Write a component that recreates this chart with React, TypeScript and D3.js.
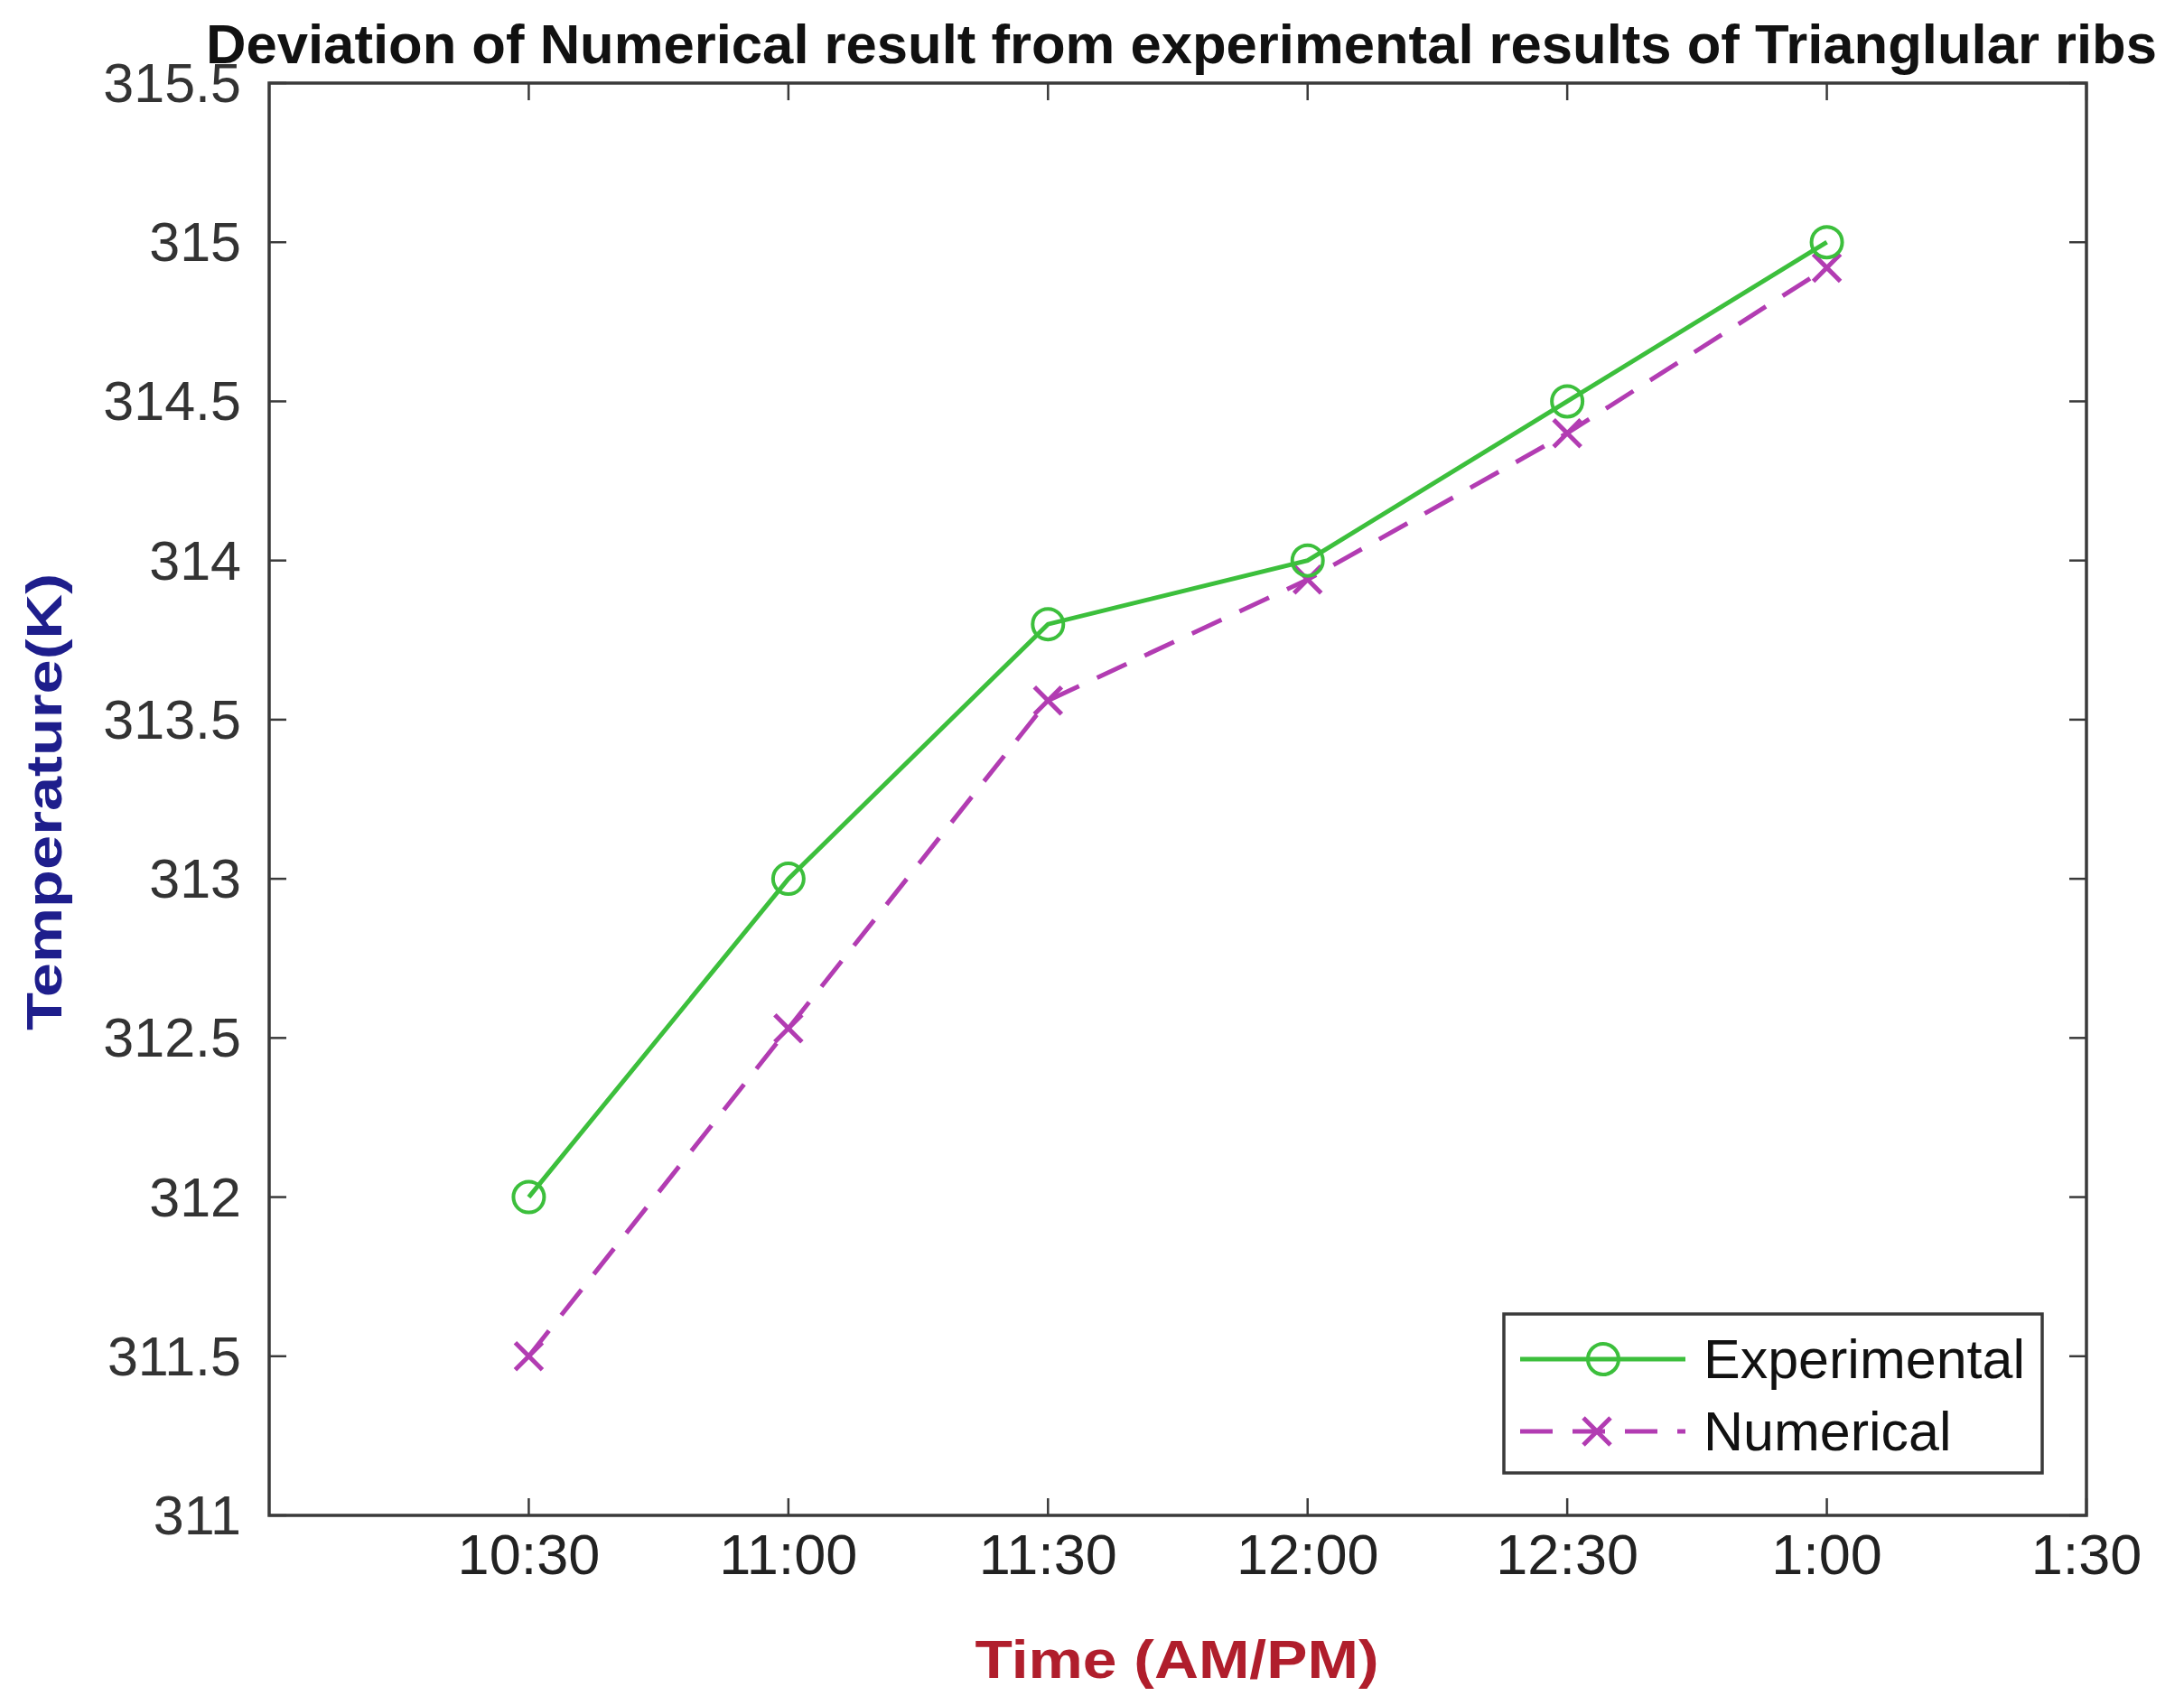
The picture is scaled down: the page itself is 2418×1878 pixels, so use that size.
import React from 'react';
import * as d3 from 'd3';

// ---- data ----
const xTickLabels = ['10:30', '11:00', '11:30', '12:00', '12:30', '1:00', '1:30'];
const dataTimes = ['10:30', '11:00', '11:30', '12:00', '12:30', '1:00'];
const experimental = [312, 313, 313.8, 314, 314.5, 315];
const numerical = [311.5, 312.53, 313.56, 313.94, 314.4, 314.92];
const yTicks = [311, 311.5, 312, 312.5, 313, 313.5, 314, 314.5, 315, 315.5];
const yTickLabels = ['311', '311.5', '312', '312.5', '313', '313.5', '314', '314.5', '315', '315.5'];
const seriesNames = ['Experimental', 'Numerical'];

const title = 'Deviation of Numerical result from experimental results of Trianglular ribs';
const xTitle = 'Time (AM/PM)';
const yTitle = 'Temperature(K)';

// ---- layout ----
const W = 2418;
const H = 1878;
const L = 298, R = 2310, T = 92, B = 1678;
const GREEN = '#3cbf3c';
const MAGENTA = '#b23cb2';
const AXIS = '#3a3a3a';
const FONT = '"Liberation Sans", Arial, Helvetica, sans-serif';

export default function App() {
  const x = d3.scaleLinear().domain([0, 7]).range([L, R]);
  const y = d3.scaleLinear().domain([311, 315.5]).range([B, T]);
  const xPos = (t: string) => x(xTickLabels.indexOf(t) + 1);

  const line = d3.line<[number, number]>().x(d => d[0]).y(d => d[1]);
  const expPts: [number, number][] = dataTimes.map((t, i) => [xPos(t), y(experimental[i])]);
  const numPts: [number, number][] = dataTimes.map((t, i) => [xPos(t), y(numerical[i])]);

  const tickLen = 19;
  const mk = 15; // half-size of x marker
  const cr = 17; // circle marker radius

  const xMarker = (cx: number, cy: number, key: string) => (
    <g key={key} stroke={MAGENTA} strokeWidth={5} strokeLinecap="butt">
      <line x1={cx - mk} y1={cy - mk} x2={cx + mk} y2={cy + mk} />
      <line x1={cx - mk} y1={cy + mk} x2={cx + mk} y2={cy - mk} />
    </g>
  );

  // legend
  const lgX0 = 1665, lgX1 = 2261, lgY0 = 1455, lgY1 = 1631;
  const row1 = 1505, row2 = 1585;
  const lineA = 1683, lineB = 1866, mkX = 1775, textX = 1886;

  return (
    <div style={{ position: 'absolute', left: 0, top: 0 }}>
      <svg width={W} height={H} viewBox={`0 0 ${W} ${H}`} style={{ display: 'block', background: '#fff' }}>
        <rect x={0} y={0} width={W} height={H} fill="#fff" />

        {/* title */}
        <text x={228} y={70} fontFamily={FONT} fontWeight="bold" fontSize={61} fill="#111"
          textLength={2160} lengthAdjust="spacingAndGlyphs">{title}</text>

        {/* axes box */}
        <rect x={L} y={T} width={R - L} height={B - T} fill="none" stroke={AXIS} strokeWidth={3.5} />

        {/* x ticks */}
        {xTickLabels.map((lab, i) => {
          const px = x(i + 1);
          return (
            <g key={'xt' + lab}>
              <line x1={px} x2={px} y1={B} y2={B - tickLen} stroke={AXIS} strokeWidth={2.5} />
              <line x1={px} x2={px} y1={T} y2={T + tickLen} stroke={AXIS} strokeWidth={2.5} />
              <text x={px} y={1743} textAnchor="middle" fontFamily={FONT} fontSize={63} fill="#222">{lab}</text>
            </g>
          );
        })}

        {/* y ticks */}
        {yTicks.map((v, i) => {
          const py = y(v);
          return (
            <g key={'yt' + v}>
              <line x1={L} x2={L + tickLen} y1={py} y2={py} stroke={AXIS} strokeWidth={2.5} />
              <line x1={R} x2={R - tickLen} y1={py} y2={py} stroke={AXIS} strokeWidth={2.5} />
              <text x={267} y={py} textAnchor="end" dominantBaseline="central" fontFamily={FONT} fontSize={61} fill="#333">{yTickLabels[i]}</text>
            </g>
          );
        })}

        {/* axis titles */}
        <text x={1303} y={1858} textAnchor="middle" fontFamily={FONT} fontWeight="bold" fontSize={60} fill="#b01e2c"
          textLength={447} lengthAdjust="spacingAndGlyphs">{xTitle}</text>
        <text transform={`translate(68, ${(T + B) / 2 + 3}) rotate(-90)`} textAnchor="middle" fontFamily={FONT}
          fontWeight="bold" fontSize={55} fill="#1e1e8c" textLength={506} lengthAdjust="spacingAndGlyphs">{yTitle}</text>

        {/* series */}
        <path d={line(numPts) || ''} fill="none" stroke={MAGENTA} strokeWidth={5} strokeDasharray="36 22" />
        {numPts.map((p, i) => xMarker(p[0], p[1], 'nm' + i))}
        <path d={line(expPts) || ''} fill="none" stroke={GREEN} strokeWidth={5} />
        {expPts.map((p, i) => (
          <circle key={'em' + i} cx={p[0]} cy={p[1]} r={cr} fill="none" stroke={GREEN} strokeWidth={4} />
        ))}

        {/* legend */}
        <rect x={lgX0} y={lgY0} width={lgX1 - lgX0} height={lgY1 - lgY0} fill="#fff" stroke={AXIS} strokeWidth={3.5} />
        <line x1={lineA} x2={lineB} y1={row1} y2={row1} stroke={GREEN} strokeWidth={5} />
        <circle cx={mkX} cy={row1} r={cr} fill="none" stroke={GREEN} strokeWidth={4} />
        <text x={textX} y={row1} dominantBaseline="central" fontFamily={FONT} fontSize={61} fill="#111">{seriesNames[0]}</text>
        <line x1={lineA} x2={lineB} y1={row2} y2={row2} stroke={MAGENTA} strokeWidth={5} strokeDasharray="36 22" />
        {xMarker(1768, row2, 'lgx')}
        <text x={textX} y={row2} dominantBaseline="central" fontFamily={FONT} fontSize={61} fill="#111">{seriesNames[1]}</text>
      </svg>
    </div>
  );
}
